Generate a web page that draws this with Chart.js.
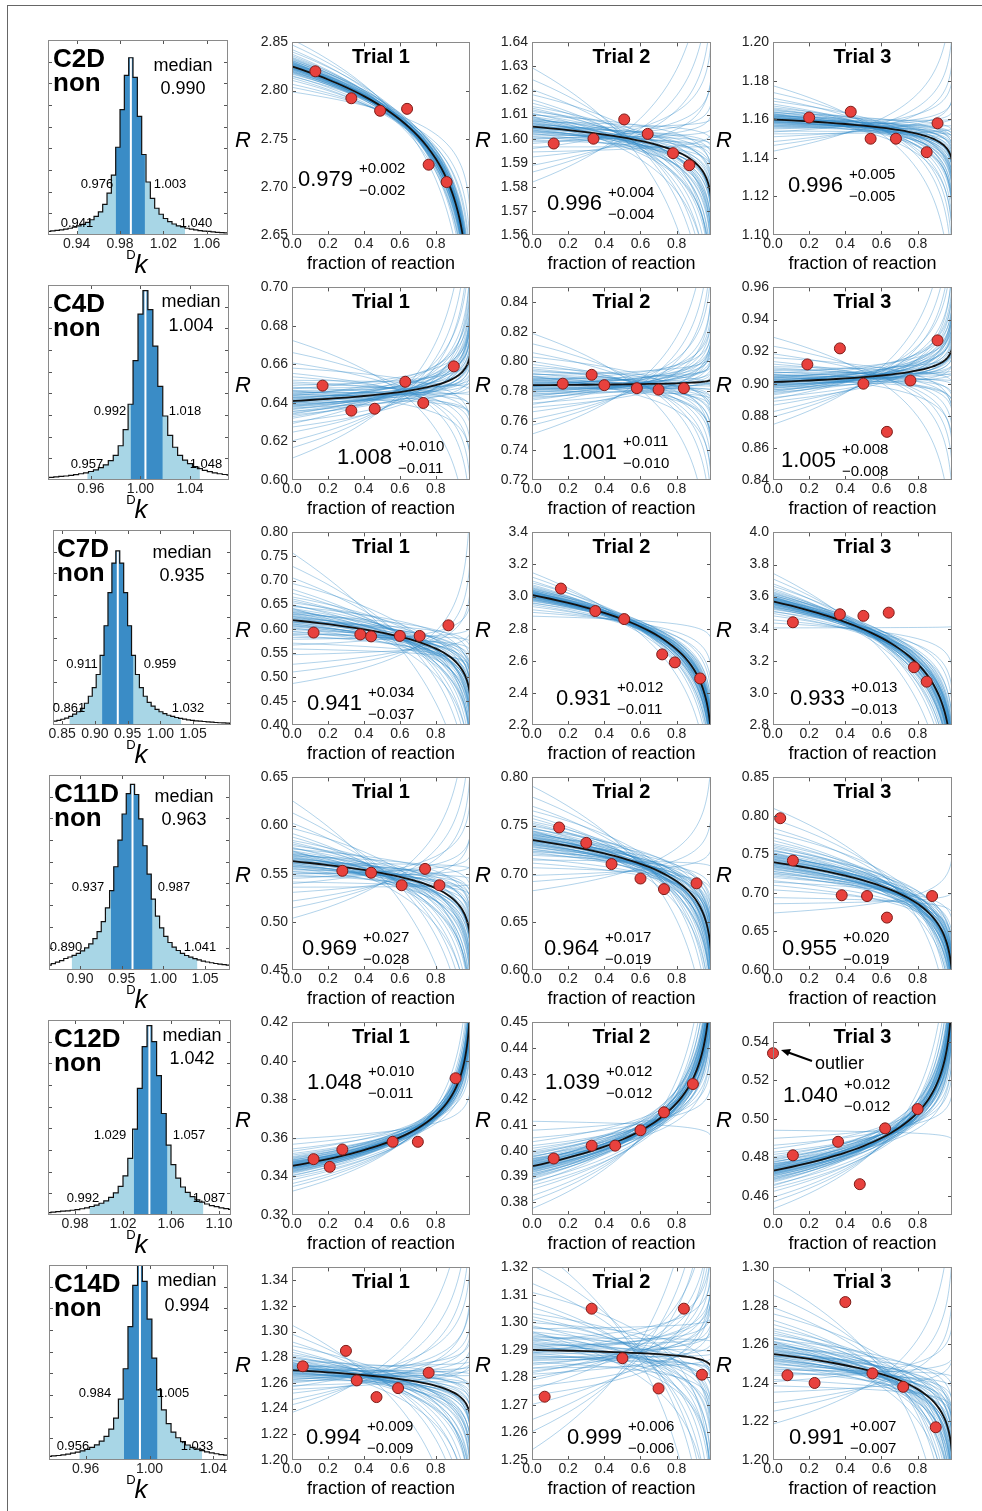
<!DOCTYPE html>
<html>
<head>
<meta charset="utf-8">
<script src="https://cdn.jsdelivr.net/npm/chart.js@4.4.1/dist/chart.umd.min.js"></script>
<style>
  body { margin: 0; background: #fff; font-family: "Liberation Sans", Arial, sans-serif; }
  #fig { position: relative; width: 982px; height: 1511px; overflow: hidden; }
  #frame { position: absolute; left: 7px; top: 5px; width: 980px; height: 1510px; border-top: 1.5px solid #666; border-left: 1.5px solid #666; }
  canvas { position: absolute; }
  .t { position: absolute; transform: translate(-50%, -50%); white-space: nowrap; color: #000; line-height: 1; }
</style>
</head>
<body>
<div id="fig"><div id="frame"></div></div>
<script>
// ---- histogram data (distribution of Dk) ----
const histNames = ['C2D', 'C4D', 'C7D', 'C11D', 'C12D', 'C14D'];
const histMedian = [0.990, 1.004, 0.935, 0.963, 1.042, 0.994];
const histLo68 = [0.976, 0.992, 0.911, 0.937, 1.029, 0.984];
const histHi68 = [1.003, 1.018, 0.959, 0.987, 1.057, 1.005];
const histLo95 = [0.941, 0.957, 0.861, 0.890, 0.992, 0.956];
const histHi95 = [1.040, 1.048, 1.032, 1.041, 1.087, 1.033];
const histMin = [0.9135, 0.9253, 0.836, 0.8628, 0.9575, 0.937];
const histMax = [1.0797, 1.0715, 1.108, 1.080, 1.110, 1.0492];
const histTicks = [[0.94, 0.98, 1.02, 1.06], [0.96, 1.00, 1.04], [0.85, 0.90, 0.95, 1.00, 1.05],
                   [0.90, 0.95, 1.00, 1.05], [0.98, 1.02, 1.06, 1.10], [0.96, 1.00, 1.04]];
const histBinStart = [0.912, 0.922, 0.836, 0.8605, 0.956, 0.9355];
const histBinWidth = [0.004, 0.004, 0.006, 0.005, 0.004, 0.003];
const countsC2D = [2.1,2.3,2.6,2.9,3.3,3.8,4.4,5.1,6.0,7.1,8.6,10.5,13,17.3,23.6,33.8,49.5,70.7,90,100,88.9,66.9,45.4,29.9,20.7,15.1,11.7,9.3,7.5,6.2,5.2,4.5,3.8,3.3,2.85,2.5,2.2,2.0,1.75,1.5,1.3,1.2];
const countsC4D = [1.2,1.4,1.6,1.9,2.1,2.4,2.8,3.3,3.8,4.5,5.4,6.5,8.0,10.2,13,18.1,26.6,40,63.1,87.6,100,90,70.7,49.5,33.8,23.6,17.3,13,10.5,8.6,7.1,6.0,5.1,4.4,3.8,3.3,2.9,2.6];
const countsC7D = [2.2,2.7,3.3,4.0,5.0,6.2,7.6,9.5,12.5,16.5,21.5,29,40,57,76,93,100,93,76,57,40,29,21.5,16.5,13,10.8,9,7.6,6.5,5.6,4.9,4.3,3.8,3.4,3.0,2.7,2.4,2.2,2.0,1.8,1.6,1.45,1.3,1.2,1.1];
const countsC11D = [2.6,3.4,4.2,5.0,6.2,7.0,7.9,9,10.3,11.9,14.1,16.9,20.7,26,33.4,42.7,55.6,69.9,84,95,100,94.5,81.4,66.9,51.6,38.2,29,22.7,18.1,14.8,12.3,10.5,9,7.8,6.9,6.1,5.4,4.8,4.3,3.9,3.5,3.2,2.9,2.6];
const countsC12D = [1.3,1.5,1.75,2.0,2.2,2.5,2.85,3.3,3.8,4.5,5.2,6.2,7.5,9.3,11.7,15.1,20.7,29.9,45.4,66.9,88.9,100,91.6,73.6,53.6,36.9,26.6,19.5,14.8,11.9,9.7,8.0,6.8,5.8,5.0,4.4,3.8,3.35,2.95];
const countsC14D = [1.85,2.1,2.3,2.6,3.0,3.5,4.0,4.7,5.5,6.5,7.8,9.7,12.1,15.8,21.5,31.2,46.8,68.4,89.6,100,91.6,72.2,52.2,36,25.7,18.7,14.3,11.4,9.4,7.7,6.5,5.6,4.8,4.2,3.7,3.2,2.8,2.5];
const histCounts = [countsC2D, countsC4D, countsC7D, countsC11D, countsC12D, countsC14D];
const histTop = [110, 103, 112, 105, 103, 100];

// ---- trial data: fraction of reaction and measured R ----
const fracC2D = [[0.13,0.33,0.49,0.64,0.76,0.86],[0.12,0.34,0.51,0.64,0.78,0.87],[0.20,0.43,0.54,0.68,0.85,0.91]];
const ratioC2D = [[2.820,2.792,2.779,2.781,2.723,2.705],[1.598,1.600,1.608,1.602,1.594,1.589],[1.161,1.164,1.150,1.150,1.143,1.158]];
const fracC4D = [[0.17,0.33,0.46,0.63,0.73,0.90],[0.17,0.33,0.40,0.58,0.70,0.84],[0.19,0.37,0.50,0.63,0.76,0.91]];
const ratioC4D = [[0.649,0.636,0.637,0.651,0.640,0.659],[0.785,0.791,0.784,0.782,0.781,0.782],[0.912,0.922,0.900,0.870,0.902,0.927]];
const fracC7D = [[0.12,0.38,0.44,0.60,0.71,0.87],[0.16,0.35,0.51,0.72,0.79,0.93],[0.11,0.37,0.50,0.64,0.78,0.85]];
const ratioC7D = [[0.592,0.588,0.584,0.585,0.585,0.607],[3.05,2.91,2.86,2.64,2.59,2.49],[3.44,3.49,3.48,3.50,3.16,3.07]];
const fracC11D = [[0.28,0.44,0.61,0.74,0.82],[0.15,0.30,0.44,0.60,0.73,0.91],[0.04,0.11,0.38,0.52,0.63,0.88]];
const ratioC11D = [[0.553,0.551,0.538,0.555,0.538],[0.748,0.732,0.710,0.695,0.684,0.690],[0.797,0.742,0.697,0.696,0.668,0.696]];
const fracC12D = [[0.12,0.21,0.28,0.56,0.70,0.91],[0.12,0.33,0.46,0.60,0.73,0.89],[0.00,0.11,0.36,0.48,0.62,0.80]];
const ratioC12D = [[0.349,0.345,0.354,0.358,0.358,0.391],[0.397,0.402,0.402,0.408,0.415,0.426],[0.534,0.481,0.488,0.466,0.495,0.505]];
const fracC14D = [[0.06,0.30,0.36,0.47,0.59,0.76],[0.07,0.33,0.50,0.70,0.84,0.94],[0.08,0.23,0.40,0.55,0.72,0.90]];
const ratioC14D = [[1.273,1.285,1.262,1.249,1.256,1.268],[1.273,1.305,1.287,1.276,1.305,1.281],[1.244,1.240,1.282,1.245,1.238,1.217]];
const rowFrac = [fracC2D, fracC4D, fracC7D, fracC11D, fracC12D, fracC14D];
const rowRatio = [ratioC2D, ratioC4D, ratioC7D, ratioC11D, ratioC12D, ratioC14D];

// y axes of the trial panels
const yRange = [[[2.65,2.85],[1.56,1.64],[1.10,1.20]], [[0.60,0.70],[0.72,0.85],[0.84,0.96]],
                [[0.40,0.80],[2.2,3.4],[2.8,4.0]], [[0.45,0.65],[0.60,0.80],[0.60,0.85]],
                [[0.32,0.42],[0.375,0.45],[0.45,0.55]], [[1.20,1.35],[1.25,1.32],[1.20,1.30]]];
const yTicks = [
  [[2.65,2.70,2.75,2.80,2.85],[1.56,1.57,1.58,1.59,1.60,1.61,1.62,1.63,1.64],[1.10,1.12,1.14,1.16,1.18,1.20]],
  [[0.60,0.62,0.64,0.66,0.68,0.70],[0.72,0.74,0.76,0.78,0.80,0.82,0.84],[0.84,0.86,0.88,0.90,0.92,0.94,0.96]],
  [[0.40,0.45,0.50,0.55,0.60,0.65,0.70,0.75,0.80],[2.2,2.4,2.6,2.8,3.0,3.2,3.4],[2.8,3.0,3.2,3.4,3.6,3.8,4.0]],
  [[0.45,0.50,0.55,0.60,0.65],[0.60,0.65,0.70,0.75,0.80],[0.60,0.65,0.70,0.75,0.80,0.85]],
  [[0.32,0.34,0.36,0.38,0.40,0.42],[0.38,0.39,0.40,0.41,0.42,0.43,0.44,0.45],[0.46,0.48,0.50,0.52,0.54]],
  [[1.20,1.22,1.24,1.26,1.28,1.30,1.32,1.34],[1.25,1.26,1.27,1.28,1.29,1.30,1.31,1.32],[1.20,1.22,1.24,1.26,1.28,1.30]]
];
const yDecimals = [[2,2,2],[2,2,2],[2,1,1],[2,2,2],[2,2,2],[2,2,2]];
const xTicks = [0.0, 0.2, 0.4, 0.6, 0.8];

// fitted fractionation factor (with errors) and starting ratio R0
const fitK = [[0.979,0.996,0.996],[1.008,1.001,1.005],[0.941,0.931,0.933],[0.969,0.964,0.955],[1.048,1.039,1.040],[0.994,0.999,0.991]];
const fitErrUp = [[0.002,0.004,0.005],[0.010,0.011,0.008],[0.034,0.012,0.013],[0.027,0.017,0.020],[0.010,0.012,0.012],[0.009,0.006,0.007]];
const fitErrDown = [[0.002,0.004,0.005],[0.011,0.010,0.008],[0.037,0.011,0.013],[0.028,0.019,0.019],[0.011,0.012,0.012],[0.009,0.006,0.007]];
const fitR0 = [[2.825,1.605,1.160],[0.641,0.784,0.901],[0.618,3.01,3.57],[0.563,0.735,0.740],[0.3455,0.394,0.473],[1.270,1.290,1.255]];
const bootSpreadR = [[0.008,0.007,0.005],[0.009,0.010,0.008],[0.04,0.04,0.05],[0.018,0.016,0.02],[0.004,0.005,0.006],[0.010,0.011,0.011]];
const bootSpreadK = [[0.0025,0.005,0.0045],[0.012,0.012,0.009],[0.045,0.013,0.015],[0.032,0.017,0.015],[0.008,0.010,0.010],[0.011,0.008,0.007]];
// bootstrap draws as (R0, k) offsets in units of the spread
const bootZ = [[0.1,-0.3],[-0.3,0.4],[0.6,-0.5],[-0.7,0.9],[1.1,-1.2],[-1.2,0.8],[0.4,0.1],[-0.1,-0.4],
  [0.0,0.5],[0.2,-0.9],[1.6,-1.9],[-1.8,1.7],[0.8,-1.2],[-0.6,0.2],[0.9,-0.3],[-1.0,1.5],[0.3,0.6],
  [-0.4,-0.2],[2.2,-2.4],[-2.3,2.6],[1.2,-0.8],[-0.9,1.1],[1.4,-1.6],[-1.5,1.0],[0.5,-0.7],[-0.2,0.0],
  [0.7,0.2],[-0.5,0.7],[2.8,-3.0],[-2.7,3.3],[0.0,-0.1],[0.15,0.2],[-0.25,0.15],[0.35,-0.35],[-0.8,0.5],
  [1.0,-1.0],[-1.3,2.0],[1.9,-1.4],[-0.1,0.9],[0.6,-1.6],[3.5,-4.2],[-3.3,4.5],
  [0.05,0.1],[-0.15,0.3],[0.25,-0.45],[-0.35,0.25],[0.45,-0.2],[-0.05,-0.15],[0.3,-0.6],[-0.45,0.55],
  [0.1,0.35],[-0.2,-0.1],[0.55,-0.85],[-0.6,0.65],[0.2,-0.1],[-0.3,0.05],[0.75,-0.6],[-0.75,1.2],
  [0.4,-0.95],[-0.1,0.6]];
// sampling of the fraction of reaction for drawing the model curves
const fGrid = [0,0.05,0.1,0.15,0.2,0.25,0.3,0.35,0.4,0.45,0.5,0.55,0.6,0.65,0.7,0.75,0.8,0.83,0.86,0.88,0.9,0.92,0.93,0.94,0.95,0.96,0.965,0.97,0.975,0.98,0.984,0.987,0.99];

// ---- layout ----
const rowTop = [40, 285, 530, 775, 1020, 1265];
const plotH = 195;
const trialLeft = [292, 532, 773];
const trialW = [178, 179, 179];
const histLeft = [48, 48, 53, 49, 48, 49];
const histRight = [228, 229, 231, 230, 231, 228];
const nameX = [53, 53, 57, 54, 54, 54];
const medianX = [183, 191, 182, 184, 192, 187];
const medianDy = [[25,48],[16,40],[22,45],[21,44],[15,38],[15,40]];
const quantPos = [
  [[97,183],[170,183],[77,222],[196,222]],
  [[110,410],[185,410],[87,463],[206,463]],
  [[82,663],[160,663],[69,707],[188,707]],
  [[88,886],[174,886],[66,946],[200,946]],
  [[110,1134],[189,1134],[83,1197],[209,1197]],
  [[95,1392],[173,1392],[73,1445],[197,1445]]
];
const annotPos = [
  [[298,179],[547,203],[788,185]],
  [[337,457],[562,452],[781,460]],
  [[307,703],[556,698],[790,698]],
  [[302,948],[544,948],[782,948]],
  [[307,1082],[545,1082],[783,1095]],
  [[306,1437],[567,1437],[789,1437]]
];

Chart.defaults.font.family = '"Liberation Sans", Arial, sans-serif';
Chart.defaults.color = '#222';
const fig = document.getElementById('fig');

function txt(s, x, y, css) {
  const d = document.createElement('div');
  d.className = 't';
  d.innerHTML = s;
  d.style.left = x + 'px';
  d.style.top = y + 'px';
  Object.assign(d.style, css || {});
  fig.appendChild(d);
  return d;
}

function makeCanvas(left, top, w, h) {
  const c = document.createElement('canvas');
  c.width = w; c.height = h;
  c.style.left = left + 'px'; c.style.top = top + 'px';
  c.style.width = w + 'px'; c.style.height = h + 'px';
  fig.appendChild(c);
  return c;
}

// box around the plot area with small inward ticks (matplotlib look)
const framePlugin = {
  id: 'frame',
  afterDatasetsDraw(chart) {
    const { ctx, chartArea: a, scales } = chart;
    ctx.save();
    ctx.strokeStyle = '#555';
    ctx.lineWidth = 1;
    ctx.beginPath();
    scales.x.ticks.forEach(t => {
      const px = Math.round(scales.x.getPixelForValue(t.value)) + 0.5;
      ctx.moveTo(px, a.bottom); ctx.lineTo(px, a.bottom - 4);
      ctx.moveTo(px, a.top); ctx.lineTo(px, a.top + 4);
    });
    scales.y.ticks.forEach(t => {
      const py = Math.round(scales.y.getPixelForValue(t.value)) + 0.5;
      if (py < a.top + 2 || py > a.bottom - 2) return;
      ctx.moveTo(a.left, py); ctx.lineTo(a.left + 4, py);
      ctx.moveTo(a.right, py); ctx.lineTo(a.right - 4, py);
    });
    ctx.stroke();
    ctx.strokeStyle = '#8a8a8a';
    ctx.strokeRect(Math.round(a.left) + 0.5, Math.round(a.top) + 0.5, Math.round(a.width) - 1, Math.round(a.height) - 1);
    ctx.restore();
  }
};

// stepped outline built from the bin edges
function stepRegion(start, w, counts, a, b) {
  const n = counts.length, pts = [];
  const bin = x => Math.min(n - 1, Math.max(0, Math.floor((x - start) / w + 1e-9)));
  pts.push({ x: a, y: counts[bin(a)] });
  for (let i = 1; i < n; i++) {
    const e = start + i * w;
    if (e > a && e < b) { pts.push({ x: e, y: counts[i - 1] }); pts.push({ x: e, y: counts[i] }); }
  }
  pts.push({ x: b, y: counts[bin(b - 1e-9)] });
  return pts;
}

// ---- histograms ----
for (let r = 0; r < 6; r++) {
  const top = rowTop[r], left = histLeft[r], w = histRight[r] - histLeft[r];
  const start = histBinStart[r], bw = histBinWidth[r], counts = histCounts[r];
  const n = counts.length;
  const outline = [{ x: start, y: 0 }];
  for (let i = 0; i < n; i++) {
    outline.push({ x: start + i * bw, y: counts[i] });
    outline.push({ x: start + (i + 1) * bw, y: counts[i] });
  }
  outline.push({ x: start + n * bw, y: 0 });
  const medBin = Math.floor((histMedian[r] - start) / bw);
  const cv = makeCanvas(left - 20, top - 4, w + 40, plotH + 4 + 22);
  new Chart(cv, {
    type: 'scatter',
    data: {
      datasets: [
        { data: outline, showLine: true, borderColor: '#111', borderWidth: 1.2, pointRadius: 0, order: 0 },
        { data: [{ x: histMedian[r], y: 0 }, { x: histMedian[r], y: counts[medBin] }], showLine: true,
          borderColor: '#fff', borderWidth: 2, pointRadius: 0, order: 1 },
        { data: stepRegion(start, bw, counts, histLo68[r], histHi68[r]), showLine: true, borderWidth: 0,
          pointRadius: 0, fill: 'origin', backgroundColor: '#3a8cc6', order: 2 },
        { data: stepRegion(start, bw, counts, histLo95[r], histHi95[r]), showLine: true, borderWidth: 0,
          pointRadius: 0, fill: 'origin', backgroundColor: '#a8d6e6', order: 3 }
      ]
    },
    options: {
      responsive: false, devicePixelRatio: 1, animation: false,
      layout: { padding: { left: 20, right: 20, top: 4, bottom: 0 } },
      plugins: { legend: { display: false }, tooltip: { enabled: false } },
      scales: {
        x: {
          type: 'linear', min: histMin[r], max: histMax[r],
          afterBuildTicks: s => { s.ticks = histTicks[r].map(v => ({ value: v })); },
          afterFit: s => { s.height = 22; },
          ticks: { callback: v => v.toFixed(2), font: { size: 14 }, color: '#222', padding: 1, autoSkip: false, maxRotation: 0 },
          grid: { display: false, drawTicks: false, tickLength: 0 },
          border: { display: false }
        },
        y: {
          min: 0, max: histTop[r],
          ticks: { display: false, stepSize: histTop[r] / 9 },
          afterFit: s => { s.width = 0; },
          grid: { display: false, drawTicks: false, tickLength: 0 },
          border: { display: false }
        }
      }
    },
    plugins: [framePlugin]
  });

  txt(histNames[r], nameX[r], top + 18, { transform: 'translate(0,-50%)', fontSize: '26px', fontWeight: 'bold' });
  txt('non', nameX[r], top + 42, { transform: 'translate(0,-50%)', fontSize: '26px', fontWeight: 'bold' });
  txt('median', medianX[r], top + medianDy[r][0], { fontSize: '18px' });
  txt(histMedian[r].toFixed(3), medianX[r], top + medianDy[r][1], { fontSize: '18px' });
  const qs = [histLo68[r], histHi68[r], histLo95[r], histHi95[r]];
  qs.forEach((q, i) => txt(q.toFixed(3), quantPos[r][i][0], quantPos[r][i][1], { fontSize: '13px' }));
  txt('D', 131, top + 214, { fontSize: '13px' });
  txt('k', 141, top + 224, { fontSize: '26px', fontStyle: 'italic' });
}

// ---- trial panels ----
const rayleigh = (R0, k, f) => R0 * Math.pow(1 - f, 1 / k - 1);

for (let r = 0; r < 6; r++) {
  for (let c = 0; c < 3; c++) {
    const top = rowTop[r], left = trialLeft[c], w = trialW[c];
    const R0 = fitR0[r][c], k = fitK[r][c];
    const sR = bootSpreadR[r][c], sK = bootSpreadK[r][c];
    const pts = rowFrac[r][c].map((f, i) => ({ x: f, y: rowRatio[r][c][i] }));
    const fit = fGrid.map(f => ({ x: f, y: rayleigh(R0, k, f) }));
    const boots = bootZ.map(([zr, zk]) => ({
      data: fGrid.map(f => ({ x: f, y: rayleigh(R0 + zr * sR, k + zk * sK, f) })),
      showLine: true, borderColor: 'rgba(52,140,200,0.38)', borderWidth: 1, pointRadius: 0,
      cubicInterpolationMode: 'monotone', order: 2
    }));
    const dec = yDecimals[r][c];
    const cv = makeCanvas(left - 46, top - 10, 46 + w + 10, 10 + plotH + 22);
    new Chart(cv, {
      type: 'scatter',
      data: {
        datasets: [
          { data: pts, pointRadius: 5.5, pointBackgroundColor: '#e8413d', pointBorderColor: '#7d1b17',
            pointBorderWidth: 1, order: 0, clip: false },
          { data: fit, showLine: true, borderColor: '#111', borderWidth: 1.8, pointRadius: 0,
            cubicInterpolationMode: 'monotone', order: 1 },
          ...boots
        ]
      },
      options: {
        responsive: false, devicePixelRatio: 1, animation: false,
        layout: { padding: { left: 0, right: 10, top: 10, bottom: 0 } },
        plugins: { legend: { display: false }, tooltip: { enabled: false } },
        scales: {
          x: {
            type: 'linear', min: 0, max: 0.99,
            afterBuildTicks: s => { s.ticks = xTicks.map(v => ({ value: v })); },
            afterFit: s => { s.height = 22; },
            ticks: { callback: v => v.toFixed(1), font: { size: 14 }, color: '#222', padding: 1, autoSkip: false, maxRotation: 0 },
            grid: { display: false, drawTicks: false, tickLength: 0 },
            border: { display: false }
          },
          y: {
            type: 'linear', min: yRange[r][c][0], max: yRange[r][c][1],
            afterBuildTicks: s => { s.ticks = yTicks[r][c].map(v => ({ value: v })); },
            afterFit: s => { s.width = 46; },
            ticks: { callback: v => v.toFixed(dec), font: { size: 14 }, color: '#222', padding: 4, autoSkip: false },
            grid: { display: false, drawTicks: false, tickLength: 0 },
            border: { display: false }
          }
        }
      },
      plugins: [framePlugin]
    });

    const cx = left + w / 2;
    txt('Trial ' + (c + 1), cx, top + 16, { fontSize: '20px', fontWeight: 'bold' });
    txt('R', left - 49, top + 100, { fontSize: '22px', fontStyle: 'italic' });
    txt('fraction of reaction', cx, top + 223, { fontSize: '18px' });
    const [ax, ay] = annotPos[r][c];
    txt('<span style="font-size:22px">' + k.toFixed(3) + '</span>' +
        '<span style="display:inline-flex;flex-direction:column;font-size:15px;line-height:22px;margin-left:6px">' +
        '<span>+' + fitErrUp[r][c].toFixed(3) + '</span><span>\u2212' + fitErrDown[r][c].toFixed(3) + '</span></span>',
        ax, ay, { transform: 'translate(0,-50%)', display: 'flex', alignItems: 'center' });
  }
}

// outlier note in C12D trial 3
txt('outlier', 815, 1063, { transform: 'translate(0,-50%)', fontSize: '18px' });
const svgNS = 'http://www.w3.org/2000/svg';
const svg = document.createElementNS(svgNS, 'svg');
svg.setAttribute('width', '982'); svg.setAttribute('height', '1511');
svg.style.cssText = 'position:absolute;left:0;top:0;pointer-events:none';
svg.innerHTML = '<line x1="812" y1="1061" x2="787" y2="1052" stroke="#000" stroke-width="2"/>' +
  '<polygon points="781,1050 791,1049 788,1056" fill="#000"/>';
fig.appendChild(svg);
</script>
</body>
</html>
